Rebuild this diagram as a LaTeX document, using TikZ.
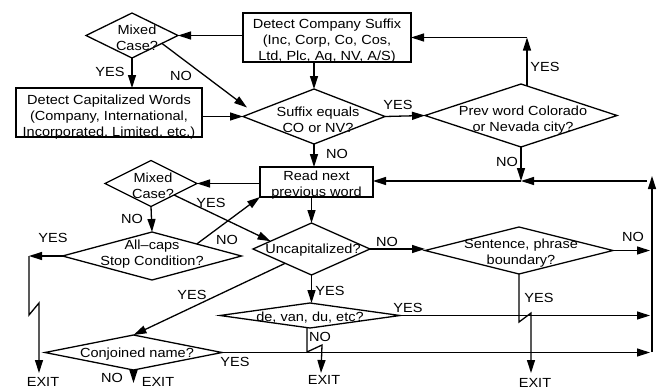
\documentclass[tikz,border=0pt]{standalone}
\usepackage{fontspec}
\setmainfont{Liberation Sans}[FakeStretch=1.1]
\usetikzlibrary{shapes.geometric,arrows.meta,calc}
\begin{document}
\begin{tikzpicture}[x=1pt,y=-1pt,
  every node/.style={font=\fontsize{13.2}{16}\selectfont},
  box/.style={draw, line width=1.3pt, inner sep=0pt, outer sep=0pt},
  dia/.style={draw, diamond, line width=1.3pt, inner sep=0pt, outer sep=0pt},
  txt/.style={align=center, inner sep=0pt},
  lbl/.style={inner sep=0pt},
  arr/.style={line width=1.3pt, -{Triangle[length=13pt,width=8pt]}},
  ln/.style={line width=1.3pt}]
\useasboundingbox (0,0) rectangle (661,389);
\fill[white] (0,0) rectangle (661,389);

% boxes
\node[box, minimum width=168pt, minimum height=49pt] (bsuf) at (327,37.5) {};
\node[box, minimum width=186pt, minimum height=49pt] (bcap) at (109,112.5) {};
\node[box, minimum width=113pt, minimum height=30pt] (bread) at (316.5,182) {};

% diamonds
\node[dia, minimum width=92pt, minimum height=45pt] (dmix1) at (132,35.5) {};
\node[dia, minimum width=142pt, minimum height=55pt] (dsuf) at (314,116.5) {};
\node[dia, minimum width=192pt, minimum height=63pt] (dprev) at (521,115.5) {};
\node[dia, minimum width=92pt, minimum height=46pt] (dmix2) at (151,183.5) {};
\node[dia, minimum width=179pt, minimum height=48pt] (dcaps) at (152,256) {};
\node[dia, minimum width=117pt, minimum height=52pt] (duncap) at (311.5,249) {};
\node[dia, minimum width=188pt, minimum height=47pt] (dsent) at (519,250.5) {};
\node[dia, minimum width=180pt, minimum height=25pt] (ddevan) at (310,315.5) {};
\node[dia, minimum width=177pt, minimum height=35pt] (dconj) at (133.5,352.5) {};

% texts
\node[txt] (tsuf) at (327,41.5) {Detect Company Suffix\\(Inc, Corp, Co, Cos,\\Ltd, Plc, Ag, NV, A/S)};
\node[txt] (tcap) at (109,117) {Detect Capitalized Words\\(Company, International,\\Incorporated, Limited, etc.)};
\node[txt] (tread) at (316.5,185.5) {Read next\\previous word};
\node[txt] (tmix1) at (137,38) {Mixed\\Case?};
\node[txt] (tsufq) at (318,119.5) {Suffix equals\\CO or NV?};
\node[txt] (tprev) at (523,120.5) {Prev word Colorado\\or Nevada city?};
\node[txt] (tmix2) at (153,186) {Mixed\\Case?};
\node[txt] (tcaps) at (152,254.5) {All--caps\\Stop Condition?};
\node[txt] (tuncap) at (313,250) {Uncapitalized?};
\node[txt] (tsent) at (521,253.5) {Sentence, phrase\\boundary?};
\node[txt] (tdevan) at (310,318) {de, van, du, etc?};
\node[txt] (tconj) at (137,354) {Conjoined name?};

% labels
\node[lbl] (l1) at (110,72) {YES};
\node[lbl] (l2) at (181,76) {NO};
\node[lbl] (l3) at (398,105) {YES};
\node[lbl] (l4) at (545,67) {YES};
\node[lbl] (l5) at (507,162) {NO};
\node[lbl] (l6) at (337,154) {NO};
\node[lbl] (l7) at (132,219) {NO};
\node[lbl] (l8) at (211,203) {YES};
\node[lbl] (l9) at (227,240) {NO};
\node[lbl] (l10) at (53,238) {YES};
\node[lbl] (l11) at (387,242) {NO};
\node[lbl] (l12) at (633,237) {NO};
\node[lbl] (l13) at (539,298) {YES};
\node[lbl] (l14) at (330,291) {YES};
\node[lbl] (l15) at (408,308) {YES};
\node[lbl] (l16) at (320,337) {NO};
\node[lbl] (l17) at (192,295) {YES};
\node[lbl] (l18) at (235,362) {YES};
\node[lbl] (l19) at (112,378) {NO};
\node[lbl] (e1) at (43,382) {EXIT};
\node[lbl] (e2) at (158,382) {EXIT};
\node[lbl] (e3) at (324,380) {EXIT};
\node[lbl] (e4) at (535,383) {EXIT};

% coordinates
\coordinate (c1) at (527,37.5);
\coordinate (j1) at (521,181);
\coordinate (rtop) at (652,176);
\coordinate (rbot) at (652,352);
\coordinate (rin) at (647,181);
\coordinate (rx) at (650,0);
\coordinate (c2) at (29,256);
\coordinate (x1) at (39,373);
\coordinate (x3) at (321,373);
\coordinate (x4) at (531,373);

% connectors
\draw[arr] (bsuf.west |- dmix1.east) -- (dmix1.east);
\draw[arr] (dmix1.south) -- (dmix1.south |- bcap.north);
\draw[arr] ($(dmix1.east)!0.35!(dmix1.south)$) -- ($(dsuf.west)+(4,-9)$);
\draw[arr] (bcap.east |- dsuf.west) -- (dsuf.west);
\draw[arr] (dsuf.north |- bsuf.south) -- (dsuf.north);
\draw[arr] (dsuf.east) -- (dprev.west);
\draw[arr] ($(dprev.north)+(6,2)$) -- (c1);
\draw[arr] (c1) -- (bsuf.east |- c1);
\draw[arr] (dprev.south) -- (j1);
\draw[arr] (rbot) -- (rtop);
\draw[arr] (rin) -- (j1);
\draw[arr] (j1) -- (bread.east |- j1);
\draw[arr] (dsuf.south) -- (dsuf.south |- bread.north);
\draw[arr] (bread.west |- dmix2.east) -- (dmix2.east);
\draw[arr] (dmix2.south) -- (dcaps.north);
\draw[arr] (dcaps.west) -- (c2);
\draw[arr] (c2) -- ++(0,59) -- ++(10,-12) -- (x1);
\draw[arr] ($(dmix2.east)!0.5!(dmix2.south)$) -- ($(duncap.west)!0.3!(duncap.north)$);
\draw[arr] ($(dcaps.north)!0.5!(dcaps.east)$) -- (bread.south west);
\draw[arr] (duncap.north |- bread.south) -- (duncap.north);
\draw[arr] (duncap.east) -- (duncap.east -| dsent.west);
\draw[arr] (dsent.east) -- (dsent.east -| rx);
\draw[arr] (dsent.south) -- ++(0,48) -- ++(12,-9) -- (x4);
\draw[arr] (duncap.south) -- (duncap.south |- ddevan.north);
\draw[arr] (ddevan.east) -- (ddevan.east -| rx);
\draw[arr] ($(ddevan.south)+(-3,-1)$) -- ++(0,25) -- ++(15,-7) -- (x3);
\draw[arr] ($(duncap.west)!0.55!(duncap.south)$) -- (dconj.north);
\draw[arr] (dconj.south) -- ++(0,13);
\draw[arr] (dconj.east) -- (dconj.east -| rx);
\end{tikzpicture}
\end{document}
